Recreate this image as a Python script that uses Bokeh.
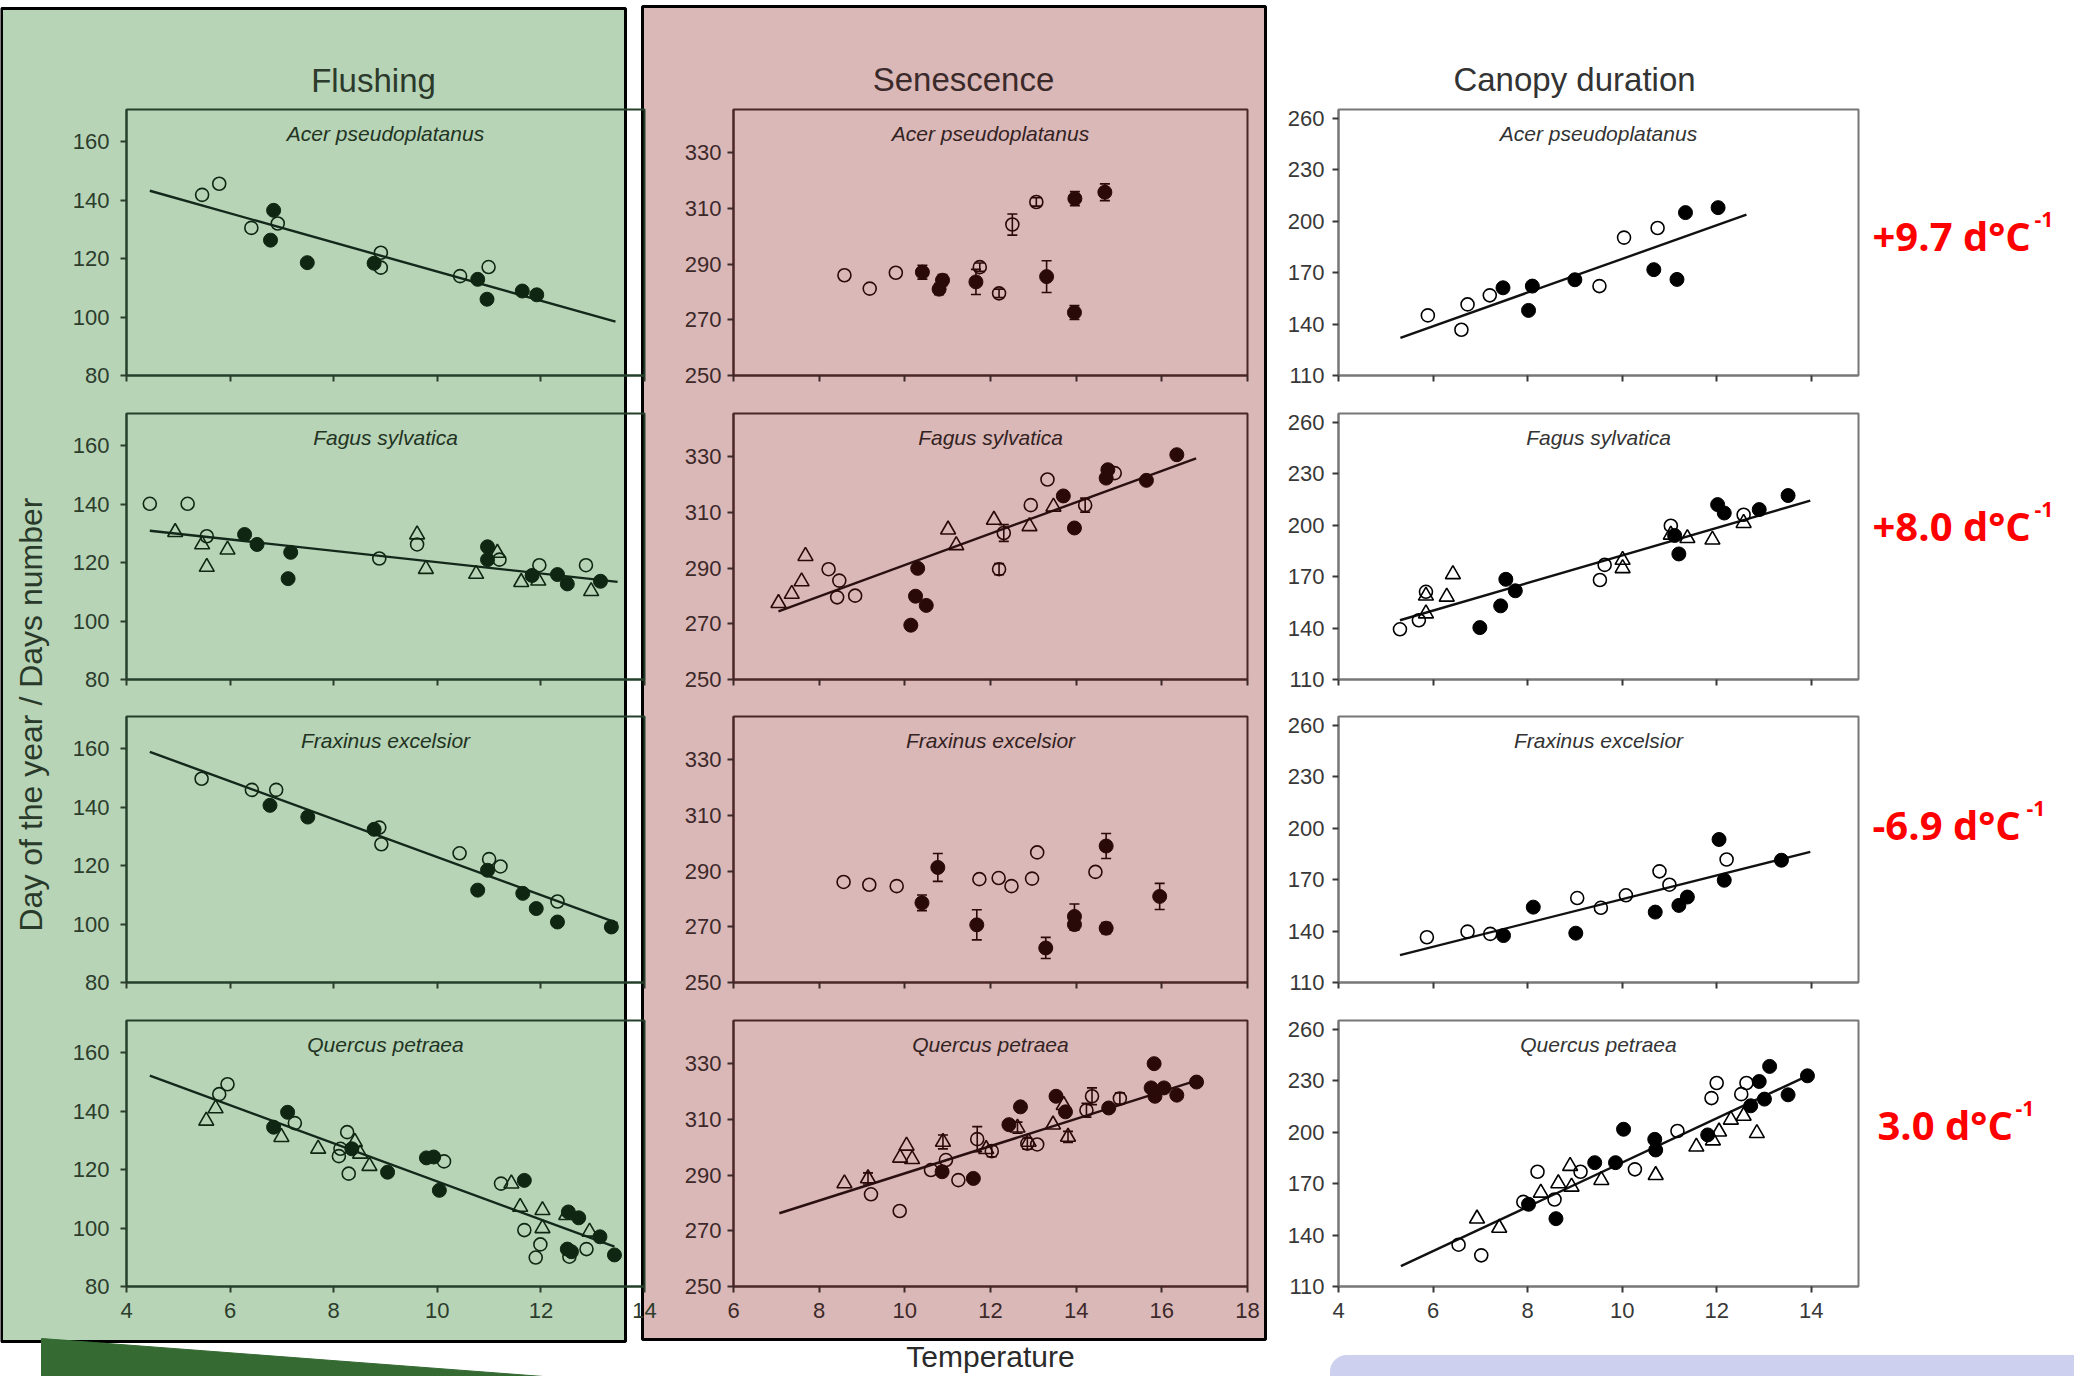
import numpy as np
from bokeh.plotting import figure
from bokeh.models import Range1d, FixedTicker, Label, ColumnDataSource, Whisker, TeeHead, Column
from bokeh.embed import file_html
from bokeh.resources import INLINE

W, H = 2074, 1376

# ---------------- texts / ticks ----------------
column_titles = ["Flushing", "Senescence", "Canopy duration"]
species = ["Acer pseudoplatanus", "Fagus sylvatica", "Fraxinus excelsior", "Quercus petraea"]
slope_texts = ["+9.7 d°C", "+8.0 d°C", "-6.9 d°C", "3.0 d°C"]
slope_sup = "-1"
y_title = "Day of the year / Days number"
x_title = "Temperature"

flush_x_ticks = [4, 6, 8, 10, 12, 14]
sen_x_ticks = [6, 8, 10, 12, 14, 16, 18]
can_x_ticks = [4, 6, 8, 10, 12, 14]
flush_y_ticks = [80, 100, 120, 140, 160]
sen_y_ticks = [250, 270, 290, 310, 330]
can_y_ticks = [110, 140, 170, 200, 230, 260]
flush_x_range = (4, 14)
sen_x_range = (6, 18)
can_x_range = (4, 15)
flush_y_range = (80, 171)
sen_y_range = (250, 345.5)
can_y_range = (110, 265.3)

# ---------------- Flushing ----------------
fl_acer_fill_x = [6.84, 6.78, 7.49, 8.78, 10.78, 10.96, 11.64, 11.92]
fl_acer_fill_y = [136.5, 126.3, 118.6, 118.4, 112.9, 106.1, 108.9, 107.6]
fl_acer_open_x = [5.46, 5.79, 6.41, 6.92, 8.91, 8.91, 10.44, 10.99]
fl_acer_open_y = [141.8, 145.6, 130.5, 132.0, 122.0, 116.9, 114.0, 117.1]
fl_acer_line_x = [4.45, 13.44]
fl_acer_line_y = [143.2, 98.4]

fl_fagus_open_x = [4.45, 5.18, 5.55, 8.88, 9.61, 11.2, 11.97, 12.87]
fl_fagus_open_y = [140.1, 140.1, 129.0, 121.4, 126.2, 121.0, 119.1, 119.1]
fl_fagus_tri_x = [4.94, 5.46, 5.55, 5.95, 9.61, 9.78, 10.75, 11.16, 11.62, 11.95, 12.97]
fl_fagus_tri_y = [130.4, 126.2, 118.5, 124.4, 129.6, 117.8, 116.1, 123.3, 113.3, 113.8, 110.2]
fl_fagus_fill_x = [6.28, 6.52, 7.17, 7.12, 10.97, 10.97, 11.83, 12.32, 12.51, 13.15]
fl_fagus_fill_y = [129.6, 126.2, 123.5, 114.5, 125.4, 121.0, 115.6, 115.9, 112.7, 113.6]
fl_fagus_line_x = [4.45, 13.48]
fl_fagus_line_y = [130.9, 113.4]

fl_frax_open_x = [5.45, 6.42, 6.89, 8.88, 8.92, 10.43, 11.0, 11.22, 12.32]
fl_frax_open_y = [149.7, 145.9, 145.9, 133.0, 127.3, 124.2, 122.2, 119.7, 107.7]
fl_frax_fill_x = [6.77, 7.5, 8.78, 10.78, 10.97, 11.65, 11.91, 12.32, 13.36]
fl_frax_fill_y = [140.6, 136.6, 132.4, 111.6, 118.4, 110.5, 105.3, 100.7, 99.0]
fl_frax_line_x = [4.45, 13.48]
fl_frax_line_y = [158.9, 100.3]

fl_quer_open_x = [5.95, 5.79, 7.25, 8.26, 8.13, 8.1, 8.29, 10.13, 11.23, 11.68, 11.99, 11.9, 12.55, 12.88]
fl_quer_open_y = [149.2, 145.8, 135.9, 132.8, 127.1, 124.6, 118.6, 122.8, 115.2, 99.3, 94.4, 89.9, 90.2, 92.8]
fl_quer_tri_x = [5.54, 5.72, 6.99, 7.7, 8.41, 8.51, 8.69, 11.43, 11.6, 12.03, 12.03, 12.49, 12.94]
fl_quer_tri_y = [136.7, 140.9, 131.1, 127.1, 129.4, 125.4, 121.2, 115.2, 107.2, 106.1, 99.9, 104.4, 98.7]
fl_quer_fill_x = [6.84, 7.11, 8.35, 9.04, 9.79, 9.93, 10.04, 11.68, 12.53, 12.73, 12.51, 12.59, 13.14, 13.42]
fl_quer_fill_y = [134.5, 139.6, 127.1, 119.1, 124.0, 124.3, 112.9, 116.3, 105.5, 103.5, 92.8, 91.9, 97.0, 90.8]
fl_quer_line_x = [4.45, 13.42]
fl_quer_line_y = [152.1, 93.6]

# ---------------- Senescence ----------------
se_acer_open_x = [8.59, 9.18, 9.79, 11.75, 12.2, 12.51, 13.07]
se_acer_open_y = [286.0, 281.2, 286.9, 288.9, 279.5, 304.2, 312.3]
se_acer_open_err = [0, 0, 0, 1.5, 1.5, 3.8, 1.5]
se_acer_fill_x = [10.41, 10.8, 10.88, 11.66, 13.31, 13.97, 14.67, 13.96]
se_acer_fill_y = [287.1, 281.0, 284.2, 283.6, 285.5, 313.5, 315.8, 272.6]
se_acer_fill_err = [2.5, 2.0, 2.0, 4.5, 5.7, 2.5, 3.0, 2.5]

se_fagus_tri_x = [7.05, 7.36, 7.59, 7.68, 11.01, 11.2, 12.08, 12.91, 13.47]
se_fagus_tri_y = [277.4, 280.7, 285.2, 294.3, 303.8, 298.2, 307.3, 305.0, 312.0]
se_fagus_open_x = [8.22, 8.47, 8.42, 8.84, 12.2, 12.31, 12.94, 13.33, 14.21, 14.9]
se_fagus_open_y = [289.6, 285.5, 279.5, 280.1, 289.6, 302.6, 312.6, 321.8, 312.6, 324.1]
se_fagus_open_err = [0, 0, 0, 0, 2.0, 3.0, 0, 0, 2.5, 0]
se_fagus_fill_x = [10.3, 10.25, 10.5, 10.14, 13.7, 13.96, 14.7, 14.74, 15.64, 16.35]
se_fagus_fill_y = [289.9, 279.9, 276.6, 269.5, 315.9, 304.4, 322.3, 325.3, 321.5, 330.7]
se_fagus_line_x = [7.05, 16.8]
se_fagus_line_y = [274.5, 329.4]

se_frax_open_x = [8.57, 9.17, 9.81, 11.74, 12.19, 12.49, 12.97, 13.09, 14.45]
se_frax_open_y = [286.1, 285.1, 284.6, 287.1, 287.5, 284.6, 287.3, 296.7, 289.7]
se_frax_fill_x = [10.4, 10.77, 11.68, 13.29, 13.96, 13.96, 14.7, 14.7, 15.95]
se_frax_fill_y = [278.6, 291.3, 270.7, 262.4, 273.7, 270.8, 299.0, 269.5, 280.9]
se_frax_fill_err = [2.8, 5.0, 5.4, 3.8, 4.5, 2.0, 4.5, 2.0, 4.7]

se_quer_tri_x = [8.59, 9.14, 9.89, 10.04, 10.17, 10.89, 11.9, 12.63, 12.89, 13.46, 13.71, 13.81]
se_quer_tri_y = [287.0, 288.8, 296.2, 300.5, 295.7, 301.9, 299.3, 307.0, 301.9, 308.1, 315.1, 303.7]
se_quer_tri_err = [0, 2.0, 0, 0, 0, 2.5, 0, 2.0, 0, 0, 0, 2.0]
se_quer_open_x = [9.21, 9.88, 10.61, 10.96, 11.25, 11.69, 12.03, 12.86, 13.09, 14.24, 14.37, 15.02]
se_quer_open_y = [283.1, 277.1, 291.8, 295.4, 288.2, 302.9, 298.6, 301.3, 301.0, 313.3, 318.3, 317.5]
se_quer_open_err = [0, 0, 0, 0, 0, 4.5, 2.0, 2.0, 0, 2.5, 3.0, 2.0]
se_quer_fill_x = [10.87, 11.6, 12.43, 12.7, 13.53, 13.75, 14.76, 15.82, 15.75, 15.84, 16.05, 16.35, 16.81]
se_quer_fill_y = [291.2, 288.8, 308.1, 314.5, 318.3, 312.7, 314.1, 330.0, 321.3, 318.3, 321.3, 318.7, 323.4]
se_quer_line_x = [7.07, 16.95]
se_quer_line_y = [276.3, 324.6]

# ---------------- Canopy duration ----------------
ca_acer_open_x = [5.89, 6.6, 6.73, 7.2, 9.52, 10.04, 10.75]
ca_acer_open_y = [145.1, 136.7, 151.5, 156.8, 162.2, 190.5, 196.1]
ca_acer_fill_x = [7.48, 8.02, 8.1, 9.0, 10.67, 11.16, 11.34, 12.03]
ca_acer_fill_y = [161.2, 148.0, 162.2, 165.9, 171.8, 166.1, 205.1, 208.0]
ca_acer_line_x = [5.31, 12.63]
ca_acer_line_y = [132.0, 203.9]

ca_fagus_open_x = [5.3, 5.7, 5.85, 9.53, 9.63, 11.03, 12.57]
ca_fagus_open_y = [139.3, 144.6, 161.2, 168.1, 176.9, 199.8, 206.2]
ca_fagus_tri_x = [5.85, 5.85, 6.29, 6.42, 10.01, 10.01, 11.03, 11.38, 11.91, 12.57]
ca_fagus_tri_y = [148.5, 158.9, 158.3, 171.4, 179.8, 174.9, 194.5, 192.5, 191.6, 201.3]
ca_fagus_fill_x = [6.99, 7.43, 7.54, 7.74, 11.11, 11.2, 12.02, 12.16, 12.9, 13.51]
ca_fagus_fill_y = [140.3, 153.0, 168.5, 161.8, 194.1, 183.3, 212.1, 207.2, 209.2, 217.4]
ca_fagus_line_x = [5.3, 13.98]
ca_fagus_line_y = [144.6, 214.4]

ca_frax_open_x = [5.87, 6.73, 7.21, 9.05, 9.55, 10.08, 10.79, 11.0, 12.21]
ca_frax_open_y = [136.4, 139.7, 138.4, 159.3, 153.6, 160.9, 174.9, 167.1, 181.8]
ca_frax_fill_x = [7.49, 8.12, 9.02, 10.7, 11.2, 11.38, 12.05, 12.16, 13.37]
ca_frax_fill_y = [137.4, 154.0, 138.8, 151.1, 155.0, 159.9, 193.5, 169.7, 181.4]
ca_frax_line_x = [5.3, 13.98]
ca_frax_line_y = [126.0, 186.3]

ca_quer_open_x = [6.54, 7.02, 7.91, 8.21, 8.57, 9.12, 10.27, 11.17, 11.89, 12.0, 12.52, 12.63]
ca_quer_open_y = [134.4, 128.2, 159.4, 177.0, 160.8, 177.0, 178.4, 200.8, 220.0, 228.8, 222.3, 228.8]
ca_quer_tri_x = [6.93, 7.4, 8.28, 8.65, 8.9, 8.93, 9.56, 10.71, 11.57, 11.92, 12.05, 12.3, 12.57, 12.85]
ca_quer_tri_y = [149.6, 144.2, 164.7, 170.2, 180.3, 168.2, 172.1, 175.0, 191.6, 195.2, 200.4, 207.3, 209.6, 199.5]
ca_quer_fill_x = [8.02, 8.6, 9.42, 9.86, 10.03, 10.69, 10.71, 11.81, 12.72, 12.9, 13.01, 13.12, 13.51, 13.92]
ca_quer_fill_y = [158.0, 149.6, 182.3, 182.3, 201.8, 195.9, 189.7, 198.5, 215.5, 229.7, 219.4, 238.5, 221.9, 233.0]
ca_quer_line_x = [5.32, 13.92]
ca_quer_line_y = [121.9, 233.0]

# ---------------- layout / style ----------------
FONT = "Liberation Sans"
GREEN = "#b7d4b7"
PINK = "#dab8b8"
STY = [
    dict(frame="#25402a", ink="#0f2712", tick="#2c3d2c", label="#223322", line="#13281a", standoff=11),
    dict(frame="#4a2727", ink="#2a0909", tick="#3d2929", label="#332222", line="#2a1010", standoff=6),
    dict(frame="#777777", ink="#000000", tick="#383838", label="#333333", line="#111111", standoff=8),
]
FRAME_X = [(126, 644), (733, 1247), (1338, 1858)]
FRAME_TOP = [109, 413, 716, 1020]
FRAME_H = 266
BL, BR, BT, BB = 80, 22, 6, 52

COLS = [
    dict(xr=flush_x_range, yr=flush_y_range, xt=flush_x_ticks, yt=flush_y_ticks),
    dict(xr=sen_x_range, yr=sen_y_range, xt=sen_x_ticks, yt=sen_y_ticks),
    dict(xr=can_x_range, yr=can_y_range, xt=can_x_ticks, yt=can_y_ticks),
]

PANELS = [
    (0, 0, dict(fill=(fl_acer_fill_x, fl_acer_fill_y), open=(fl_acer_open_x, fl_acer_open_y),
                line=(fl_acer_line_x, fl_acer_line_y))),
    (0, 1, dict(fill=(fl_fagus_fill_x, fl_fagus_fill_y), open=(fl_fagus_open_x, fl_fagus_open_y),
                tri=(fl_fagus_tri_x, fl_fagus_tri_y), line=(fl_fagus_line_x, fl_fagus_line_y))),
    (0, 2, dict(fill=(fl_frax_fill_x, fl_frax_fill_y), open=(fl_frax_open_x, fl_frax_open_y),
                line=(fl_frax_line_x, fl_frax_line_y))),
    (0, 3, dict(fill=(fl_quer_fill_x, fl_quer_fill_y), open=(fl_quer_open_x, fl_quer_open_y),
                tri=(fl_quer_tri_x, fl_quer_tri_y), line=(fl_quer_line_x, fl_quer_line_y))),
    (1, 0, dict(fill=(se_acer_fill_x, se_acer_fill_y, se_acer_fill_err),
                open=(se_acer_open_x, se_acer_open_y, se_acer_open_err))),
    (1, 1, dict(fill=(se_fagus_fill_x, se_fagus_fill_y), open=(se_fagus_open_x, se_fagus_open_y, se_fagus_open_err),
                tri=(se_fagus_tri_x, se_fagus_tri_y), line=(se_fagus_line_x, se_fagus_line_y))),
    (1, 2, dict(fill=(se_frax_fill_x, se_frax_fill_y, se_frax_fill_err), open=(se_frax_open_x, se_frax_open_y))),
    (1, 3, dict(fill=(se_quer_fill_x, se_quer_fill_y), open=(se_quer_open_x, se_quer_open_y, se_quer_open_err),
                tri=(se_quer_tri_x, se_quer_tri_y, se_quer_tri_err), line=(se_quer_line_x, se_quer_line_y))),
    (2, 0, dict(fill=(ca_acer_fill_x, ca_acer_fill_y), open=(ca_acer_open_x, ca_acer_open_y),
                line=(ca_acer_line_x, ca_acer_line_y))),
    (2, 1, dict(fill=(ca_fagus_fill_x, ca_fagus_fill_y), open=(ca_fagus_open_x, ca_fagus_open_y),
                tri=(ca_fagus_tri_x, ca_fagus_tri_y), line=(ca_fagus_line_x, ca_fagus_line_y))),
    (2, 2, dict(fill=(ca_frax_fill_x, ca_frax_fill_y), open=(ca_frax_open_x, ca_frax_open_y),
                line=(ca_frax_line_x, ca_frax_line_y))),
    (2, 3, dict(fill=(ca_quer_fill_x, ca_quer_fill_y), open=(ca_quer_open_x, ca_quer_open_y),
                tri=(ca_quer_tri_x, ca_quer_tri_y), line=(ca_quer_line_x, ca_quer_line_y))),
]


def add_whiskers(p, series, color):
    if len(series) < 3:
        return
    xs, ys, errs = series
    idx = [i for i, e in enumerate(errs) if e > 0]
    if not idx:
        return
    src = ColumnDataSource(dict(
        x=[xs[i] for i in idx],
        lower=[ys[i] - errs[i] for i in idx],
        upper=[ys[i] + errs[i] for i in idx]))
    p.add_layout(Whisker(source=src, base="x", lower="lower", upper="upper",
                         line_color=color, line_width=1.6,
                         upper_head=TeeHead(size=10, line_color=color, line_width=1.6),
                         lower_head=TeeHead(size=10, line_color=color, line_width=1.6)))


def make_panel(ci, ri, d):
    st = STY[ci]
    cfg = COLS[ci]
    fl, fr = FRAME_X[ci]
    fw = fr - fl
    p = figure(width=BL + fw + BR, height=BT + FRAME_H + BB,
               x_range=Range1d(*cfg["xr"]), y_range=Range1d(*cfg["yr"]),
               output_backend="svg", toolbar_location=None, title=None,
               min_border_left=BL, min_border_right=BR, min_border_top=BT, min_border_bottom=BB,
               background_fill_color=None, border_fill_color=None,
               outline_line_color=st["frame"], outline_line_width=2)
    p.frame_align = False
    p.grid.visible = False
    p.xaxis.ticker = FixedTicker(ticks=cfg["xt"], minor_ticks=[])
    p.yaxis.ticker = FixedTicker(ticks=cfg["yt"], minor_ticks=[])
    for ax in (p.xaxis[0], p.yaxis[0]):
        ax.axis_line_color = st["frame"]
        ax.axis_line_width = 2
        ax.major_tick_line_color = st["tick"]
        ax.major_tick_line_width = 2
        ax.major_tick_out = 6
        ax.major_tick_in = 0
        ax.minor_tick_line_color = None
        ax.major_label_text_font = FONT
        ax.major_label_text_font_size = "22px"
        ax.major_label_text_color = st["tick"]
    p.yaxis.major_label_standoff = st["standoff"]
    p.xaxis.major_label_standoff = 10
    if ri < 3:
        p.xaxis.major_label_text_color = None

    xr, yr = cfg["xr"], cfg["yr"]
    p.add_layout(Label(x=(xr[0] + xr[1]) / 2, y=yr[1] - (yr[1] - yr[0]) * 24 / FRAME_H,
                       text=species[ri], text_align="center", text_baseline="middle",
                       text_font=FONT, text_font_style="italic", text_font_size="21px",
                       text_color=st["label"]))

    for key in ("fill", "open", "tri"):
        if key in d:
            add_whiskers(p, d[key], st["ink"])
    if "line" in d:
        lx, ly = d["line"]
        p.line(lx, ly, line_color=st["line"], line_width=2.4)
    if "tri" in d:
        p.scatter(d["tri"][0], d["tri"][1], marker="triangle", size=15,
                  fill_color=None, line_color=st["ink"], line_width=1.6)
    if "open" in d:
        p.scatter(d["open"][0], d["open"][1], marker="circle", size=13,
                  fill_color=None, line_color=st["ink"], line_width=1.6)
    if "fill" in d:
        p.scatter(d["fill"][0], d["fill"][1], marker="circle", size=14,
                  fill_color=st["ink"], line_color=st["ink"])
    p.styles = {"position": "absolute", "left": f"{fl - BL}px", "top": f"{FRAME_TOP[ri] - BT}px"}
    return p


# ---------------- background page ----------------
bg = figure(width=W, height=H, x_range=Range1d(0, W), y_range=Range1d(H, 0),
            output_backend="svg", toolbar_location=None, title=None,
            x_axis_type=None, y_axis_type=None,
            min_border=0, min_border_left=0, min_border_right=0, min_border_top=0, min_border_bottom=0,
            outline_line_color=None, background_fill_color="white", border_fill_color="white")
bg.frame_align = False
bg.grid.visible = False
bg.quad(left=[1], right=[625], top=[8], bottom=[1341], fill_color=GREEN, line_color="black", line_width=3)
bg.quad(left=[642], right=[1265], top=[6], bottom=[1339], fill_color=PINK, line_color="black", line_width=3)
bg.patch([41, 543, 41], [1338, 1376, 1376], fill_color="#356a32", line_color="#356a32")
r = 16
ang = np.linspace(np.pi, 1.5 * np.pi, 10)
lav_x = [1330] + list(1330 + r + r * np.cos(ang)) + [W, W]
lav_y = [H] + list(1355 + r + r * np.sin(ang)) + [1355, H]
bg.patch(lav_x, lav_y, fill_color="#cdd0ef", line_color="#cdd0ef")

title_pos = [(373, 80, "#2c3a2c"), (963, 79, "#3b2a2a"), (1574, 79, "#333333")]
for t, (tx, ty, tc) in zip(column_titles, title_pos):
    bg.add_layout(Label(x=tx, y=ty, text=t, text_align="center", text_baseline="alphabetic",
                        text_font=FONT, text_font_size="33px", text_color=tc))
bg.add_layout(Label(x=30, y=714, text=y_title, angle=np.pi / 2, text_align="center",
                    text_baseline="middle", text_font=FONT, text_font_size="32px", text_color="#2a3a2a"))
bg.add_layout(Label(x=990, y=1356, text=x_title, text_align="center", text_baseline="alphabetic",
                    text_font=FONT, text_font_size="30px", text_color="#2a2a2a"))

slope_pos = [(1872, 235, 2034), (1872, 525, 2034), (1872, 824, 2026), (1877, 1124, 2015)]
for t, (sx, sy, supx) in zip(slope_texts, slope_pos):
    bg.add_layout(Label(x=sx, y=sy, text=t, text_align="left", text_baseline="alphabetic",
                        text_font="Open Sans", text_font_style="bold", text_font_size="40px",
                        text_color="#ff0000"))
    bg.add_layout(Label(x=supx, y=sy - 16, text=slope_sup, text_align="left", text_baseline="alphabetic",
                        text_font="Open Sans", text_font_style="bold", text_font_size="21px",
                        text_color="#ff0000"))
bg.styles = {"position": "absolute", "left": "0px", "top": "0px"}

panels = [make_panel(ci, ri, d) for ci, ri, d in PANELS]

root = Column(children=[bg] + panels, width=W, height=H,
              styles={"position": "absolute", "left": "0px", "top": "0px"})

open("out.html", "w").write(file_html(root, INLINE))
